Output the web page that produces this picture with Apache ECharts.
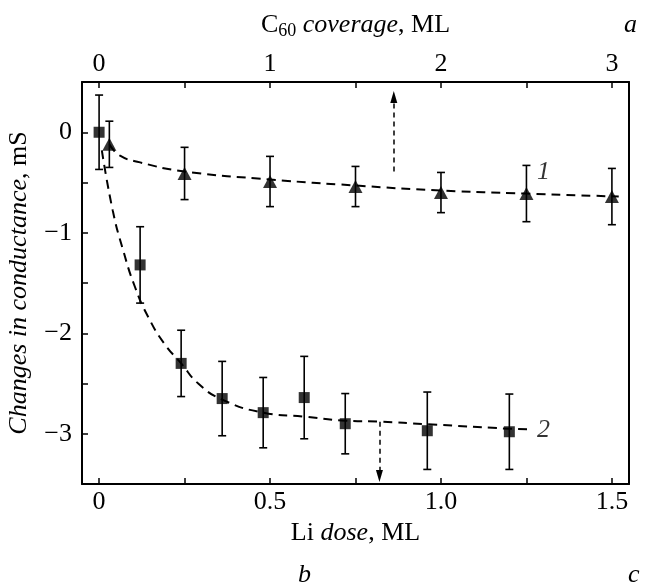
<!DOCTYPE html>
<html>
<head>
<meta charset="utf-8">
<script src="https://cdn.jsdelivr.net/npm/echarts@6/dist/echarts.min.js"></script>
<style>
html, body { margin: 0; padding: 0; background: #fff; }
#myChart { width: 645px; height: 587px; }
</style>
</head>
<body>
<div id="myChart"></div>
<script>
// Axes
const liTicks = [0, 0.25, 0.5, 0.75, 1.0, 1.25, 1.5]
const liLabels = [0, 0.5, 1.0, 1.5]
const c60Ticks = [0, 0.5, 1, 1.5, 2, 2.5, 3]
const c60Labels = [0, 1, 2, 3]
const yTicks = [0, -0.5, -1, -1.5, -2, -2.5, -3]
const yLabels = [0, -1, -2, -3]

// curve 1 (triangles), x in Li-dose units
const triX = [0.03, 0.25, 0.5, 0.75, 1.0, 1.25, 1.5]
const triY = [-0.12, -0.41, -0.49, -0.54, -0.6, -0.61, -0.64]
const triErr = [0.23, 0.26, 0.25, 0.2, 0.2, 0.28, 0.28]
const fit1X = [0.03, 0.06, 0.12, 0.25, 0.5, 0.75, 1.0, 1.25, 1.52]
const fit1Y = [-0.12, -0.23, -0.3, -0.39, -0.47, -0.53, -0.58, -0.61, -0.64]

// curve 2 (squares)
const sqX = [0, 0.12, 0.24, 0.36, 0.48, 0.6, 0.72, 0.96, 1.2]
const sqY = [0, -1.32, -2.3, -2.65, -2.79, -2.64, -2.9, -2.97, -2.98]
const sqErr = [0.37, 0.38, 0.33, 0.37, 0.35, 0.41, 0.3, 0.385, 0.375]
const fit2X = [0.008, 0.04, 0.07, 0.105, 0.144, 0.19, 0.24, 0.29, 0.36, 0.48, 0.6, 0.72, 0.82, 0.96, 1.2, 1.255]
const fit2Y = [-0.18, -0.78, -1.17, -1.54, -1.84, -2.1, -2.3, -2.5, -2.66, -2.79, -2.83, -2.87, -2.88, -2.905, -2.95, -2.955]

// arrows and curve numbers
const arrowUp = [[0.862, -0.39], [0.862, 0.35]]
const arrowDown = [[0.82, -2.88], [0.82, -3.42]]
const curveNames = ['1', '2']
const curveNameX = [1.3, 1.3]
const curveNameY = [-0.4, -2.965]

const FONT = 'Liberation Serif, DejaVu Serif, serif'
const FS = 26

const chart = echarts.init(document.getElementById('myChart'))

const zip = (xs, ys) => xs.map((x, i) => [x, ys[i]])
const errData = (xs, ys, es) => xs.map((x, i) => [x, ys[i], es[i]])
const fmtMinus = v => (v < 0 ? '\u2212' + Math.abs(v) : String(v))

function renderErr(params, api) {
  const x = api.value(0)
  const y = api.value(1)
  const e = api.value(2)
  const top = api.coord([x, y + e])
  const bot = api.coord([x, y - e])
  const w = 4
  const style = { stroke: '#000', lineWidth: 1.6 }
  return {
    type: 'group',
    children: [
      { type: 'line', shape: { x1: top[0], y1: top[1], x2: bot[0], y2: bot[1] }, style },
      { type: 'line', shape: { x1: top[0] - w, y1: top[1], x2: top[0] + w, y2: top[1] }, style },
      { type: 'line', shape: { x1: bot[0] - w, y1: bot[1], x2: bot[0] + w, y2: bot[1] }, style },
    ],
  }
}

const axisLine = { show: true, onZero: false, lineStyle: { color: '#000', width: 2 } }
const tickStyle = { color: '#000', width: 1.5 }
const richText = {
  n: { fontFamily: FONT, fontSize: FS, color: '#000' },
  i: { fontFamily: FONT, fontSize: FS, fontStyle: 'italic', color: '#000' },
  sub: { fontFamily: FONT, fontSize: 18, color: '#000', padding: [12, 0, 0, 0] },
}

chart.setOption({
  animation: false,
  grid: { left: 82, right: 16, top: 82, bottom: 103, containLabel: false, outerBoundsMode: 'none' },
  xAxis: [{
    type: 'value',
    position: 'bottom',
    min: -0.05,
    max: 1.55,
    axisLine,
    splitLine: { show: false },
    axisTick: { inside: true, length: 6, customValues: liTicks, lineStyle: tickStyle },
    axisLabel: {
      customValues: liLabels,
      margin: 5,
      fontFamily: FONT,
      fontSize: FS,
      color: '#000',
      formatter: v => (v === 0 ? '0' : v.toFixed(1)),
    },
    name: '{n|Li }{i|dose}{n|, ML}',
    nameLocation: 'middle',
    nameGap: 24,
    nameTextStyle: { rich: richText },
  }, {
    type: 'value',
    position: 'top',
    min: -0.1,
    max: 3.1,
    axisLine,
    splitLine: { show: false },
    axisTick: { inside: true, length: 6, customValues: c60Ticks, lineStyle: tickStyle },
    axisLabel: {
      customValues: c60Labels,
      margin: 5,
      fontFamily: FONT,
      fontSize: FS,
      color: '#000',
    },
    name: '{n|C}{sub|60}{i| coverage}{n|, ML}',
    nameLocation: 'middle',
    nameGap: 42,
    nameTextStyle: { rich: richText },
  }],
  yAxis: [{
    type: 'value',
    position: 'left',
    min: -3.5,
    max: 0.5,
    axisLine,
    splitLine: { show: false },
    axisTick: { inside: true, length: 6, customValues: yTicks, lineStyle: tickStyle },
    axisLabel: {
      customValues: yLabels,
      margin: 10,
      fontFamily: FONT,
      fontSize: FS,
      color: '#000',
      formatter: fmtMinus,
    },
    name: '{i|Changes in conductance}{n|, mS}',
    nameLocation: 'middle',
    nameRotate: 90,
    nameGap: 50,
    nameTextStyle: { rich: richText },
  }, {
    type: 'value',
    position: 'right',
    min: -3.5,
    max: 0.5,
    axisLine,
    axisTick: { show: false },
    axisLabel: { show: false },
    splitLine: { show: false },
  }],
  graphic: [
    { type: 'text', left: 624, top: 12, style: { text: 'a', font: 'italic 26px ' + FONT, fill: '#000' } },
    { type: 'text', left: 298, top: 562, style: { text: 'b', font: 'italic 26px ' + FONT, fill: '#000' } },
    { type: 'text', left: 628, top: 562, style: { text: 'c', font: 'italic 26px ' + FONT, fill: '#000' } },
  ],
  series: [{
    name: 'fit1',
    type: 'line',
    data: zip(fit1X, fit1Y),
    smooth: true,
    showSymbol: false,
    lineStyle: { color: '#000', width: 2, type: [9, 6] },
  }, {
    name: 'fit2',
    type: 'line',
    data: zip(fit2X, fit2Y),
    smooth: true,
    showSymbol: false,
    lineStyle: { color: '#000', width: 2, type: [9, 6] },
  }, {
    name: 'err1',
    type: 'custom',
    renderItem: renderErr,
    data: errData(triX, triY, triErr),
    encode: { x: 0, y: 1 },
  }, {
    name: 'err2',
    type: 'custom',
    renderItem: renderErr,
    data: errData(sqX, sqY, sqErr),
    encode: { x: 0, y: 1 },
  }, {
    name: 'C60',
    type: 'scatter',
    symbol: 'triangle',
    symbolSize: [14, 13],
    itemStyle: { color: '#000' },
    data: zip(triX, triY),
  }, {
    name: 'Li',
    type: 'scatter',
    symbol: 'rect',
    symbolSize: 11,
    itemStyle: { color: '#000' },
    data: zip(sqX, sqY),
  }, {
    name: 'notes',
    type: 'scatter',
    symbolSize: 0,
    data: curveNames.map((n, i) => ({ name: n, value: [curveNameX[i], curveNameY[i]] })),
    label: {
      show: true,
      position: 'inside',
      formatter: p => p.name,
      fontFamily: FONT,
      fontStyle: 'italic',
      fontSize: FS,
      color: '#000',
    },
    markLine: {
      silent: true,
      symbol: ['none', 'triangle'],
      symbolSize: [7, 12],
      label: { show: false },
      lineStyle: { color: '#000', width: 1.5, type: [5, 4] },
      data: [
        [{ coord: arrowUp[0] }, { coord: arrowUp[1] }],
        [{ coord: arrowDown[0] }, { coord: arrowDown[1] }],
      ],
    },
  }],
})
</script>
</body>
</html>
